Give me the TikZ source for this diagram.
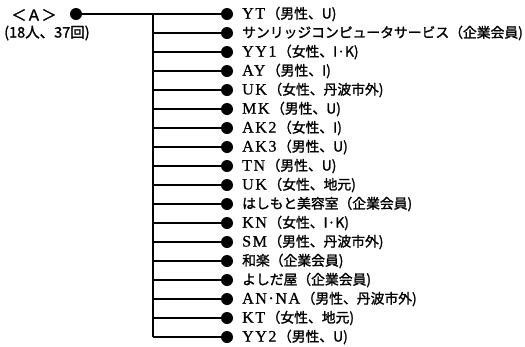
\documentclass[tikz,border=0pt]{standalone}
\usepackage{fontspec}
\setmainfont{Liberation Serif}
\newfontfamily\cjk[BoldFont={Noto Sans CJK JP},BoldFeatures={FakeBold=1.5}]{Noto Sans CJK JP}
\newfontfamily\latf[LetterSpace=10,BoldFont={Liberation Serif},BoldFeatures={FakeBold=0.8}]{Liberation Serif}
\newcommand\fws[1]{{\latf\fontsize{16}{15}\selectfont #1}\hspace{1.5pt}}
\begin{document}
\begin{tikzpicture}[x=1pt,y=-1pt,
  dot/.style={circle,fill=black,inner sep=0pt,minimum size=12pt},
  lbl/.style={anchor=west,inner sep=0pt,font=\cjk\bfseries\fontsize{13.8}{15}\selectfont},
  ln/.style={line width=1.4pt,black}]
\useasboundingbox (0,0) rectangle (525,346);
\node[dot] (root) at (76,14) {};
\node[anchor=center,inner sep=0pt,font=\cjk\bfseries\fontsize{15}{15}\selectfont] (ta) at (34,15) {＜Ａ＞};
\node[anchor=west,inner sep=0pt,font=\cjk\bfseries\fontsize{14.5}{15}\selectfont] (tb) at (4,33) {(18人、37回)};
\coordinate (vtop) at (153,14);
\coordinate (vbot) at (153,337);
\draw[ln] (vtop) -- (vbot);
\foreach \t [count=\i] in {
  {\fws{YT}（男性、U)},
  {サンリッジコンピュータサービス（企業会員)},
  {\fws{YY1}（女性、I·K)},
  {\fws{AY}（男性、I)},
  {\fws{UK}（女性、丹波市外)},
  {\fws{MK}（男性、U)},
  {\fws{AK2}（女性、I)},
  {\fws{AK3}（男性、U)},
  {\fws{TN}（男性、U)},
  {\fws{UK}（女性、地元)},
  {はしもと美容室（企業会員)},
  {\fws{KN}（女性、I·K)},
  {\fws{SM}（男性、丹波市外)},
  {和楽（企業会員)},
  {よしだ屋（企業会員)},
  {\fws{AN·NA}（男性、丹波市外)},
  {\fws{KT}（女性、地元)},
  {\fws{YY2}（男性、U)}}{
  \pgfmathsetmacro{\yy}{14+(\i-1)*19}
  \node[dot] (l\i) at (227,\yy) {};
  \node[lbl] (t\i) at (242,\yy) {\t};
  \coordinate (b\i) at (153,\yy);
  \ifnum\i>1 \draw[ln] (b\i) -- (l\i); \fi
}
\draw[ln] (root) -- (l1);
\end{tikzpicture}
\end{document}
